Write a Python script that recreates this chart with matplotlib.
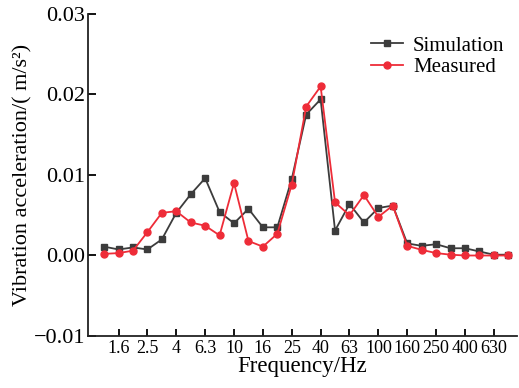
import matplotlib
matplotlib.use("Agg")
import matplotlib.pyplot as plt

plt.rcParams["font.family"] = ["Liberation Serif", "DejaVu Serif"]

# 1/3 octave band centre frequencies (Hz)
bands = ["1.25", "1.6", "2", "2.5", "3.15", "4", "5", "6.3", "8", "10",
         "12.5", "16", "20", "25", "31.5", "40", "50", "63", "80", "100",
         "125", "160", "200", "250", "315", "400", "500", "630", "800"]

simulation = [0.0011, 0.00075, 0.001, 0.00075, 0.002, 0.0053, 0.0076, 0.0096,
              0.0054, 0.0040, 0.0058, 0.0035, 0.0035, 0.0095, 0.0175, 0.0194,
              0.0031, 0.0064, 0.0041, 0.0059, 0.0062, 0.0015, 0.0012, 0.0014,
              0.0009, 0.0009, 0.0005, 0.0001, 0.0001]

measured = [0.0002, 0.0003, 0.0006, 0.0029, 0.0053, 0.0055, 0.0041, 0.0037,
            0.0025, 0.0090, 0.0018, 0.0011, 0.0027, 0.0088, 0.0185, 0.0210,
            0.0066, 0.0050, 0.0075, 0.0048, 0.0062, 0.0012, 0.0007, 0.0003,
            0.0001, 0.0000, 0.0000, 0.0000, 0.0000]

x = list(range(len(bands)))

fig = plt.figure(figsize=(5.19, 3.88), dpi=100)
ax = fig.add_axes([0.170, 0.134, 0.826, 0.830])

ax.plot(x, simulation, color="#3c3c3c", marker="s", markersize=5,
        linewidth=1.3, label="Simulation")
ax.plot(x, measured, color="#ee2c38", marker="o", markersize=5,
        linewidth=1.3, label="Measured")

ax.set_xlim(-1.1, 28.6)
ax.set_ylim(-0.01, 0.03)
ax.set_yticks([-0.01, 0.0, 0.01, 0.02, 0.03])
ax.set_yticklabels(["\u22120.01", "0.00", "0.01", "0.02", "0.03"])
ax.set_xticks(x[1::2])
ax.set_xticklabels(bands[1::2])

ax.spines["top"].set_visible(False)
ax.spines["right"].set_visible(False)
for s in ["left", "bottom"]:
    ax.spines[s].set_linewidth(1.3)
    ax.spines[s].set_color("#222222")

ax.tick_params(axis="y", direction="in", length=6, width=1.3, labelsize=16, pad=2)
ax.tick_params(axis="x", direction="in", length=5, width=1.3, labelsize=13, pad=3)

ax.set_xlabel("Frequency/Hz", fontsize=16.5, labelpad=-1)
ax.set_ylabel("Vibration acceleration/( m/s\u00b2)", fontsize=16, labelpad=1)

ax.legend(loc="upper right", bbox_to_anchor=(1.015, 0.99), frameon=False,
          fontsize=15, handlelength=1.5, handletextpad=0.5, labelspacing=0.1)

fig.savefig("out.png", dpi=100)
